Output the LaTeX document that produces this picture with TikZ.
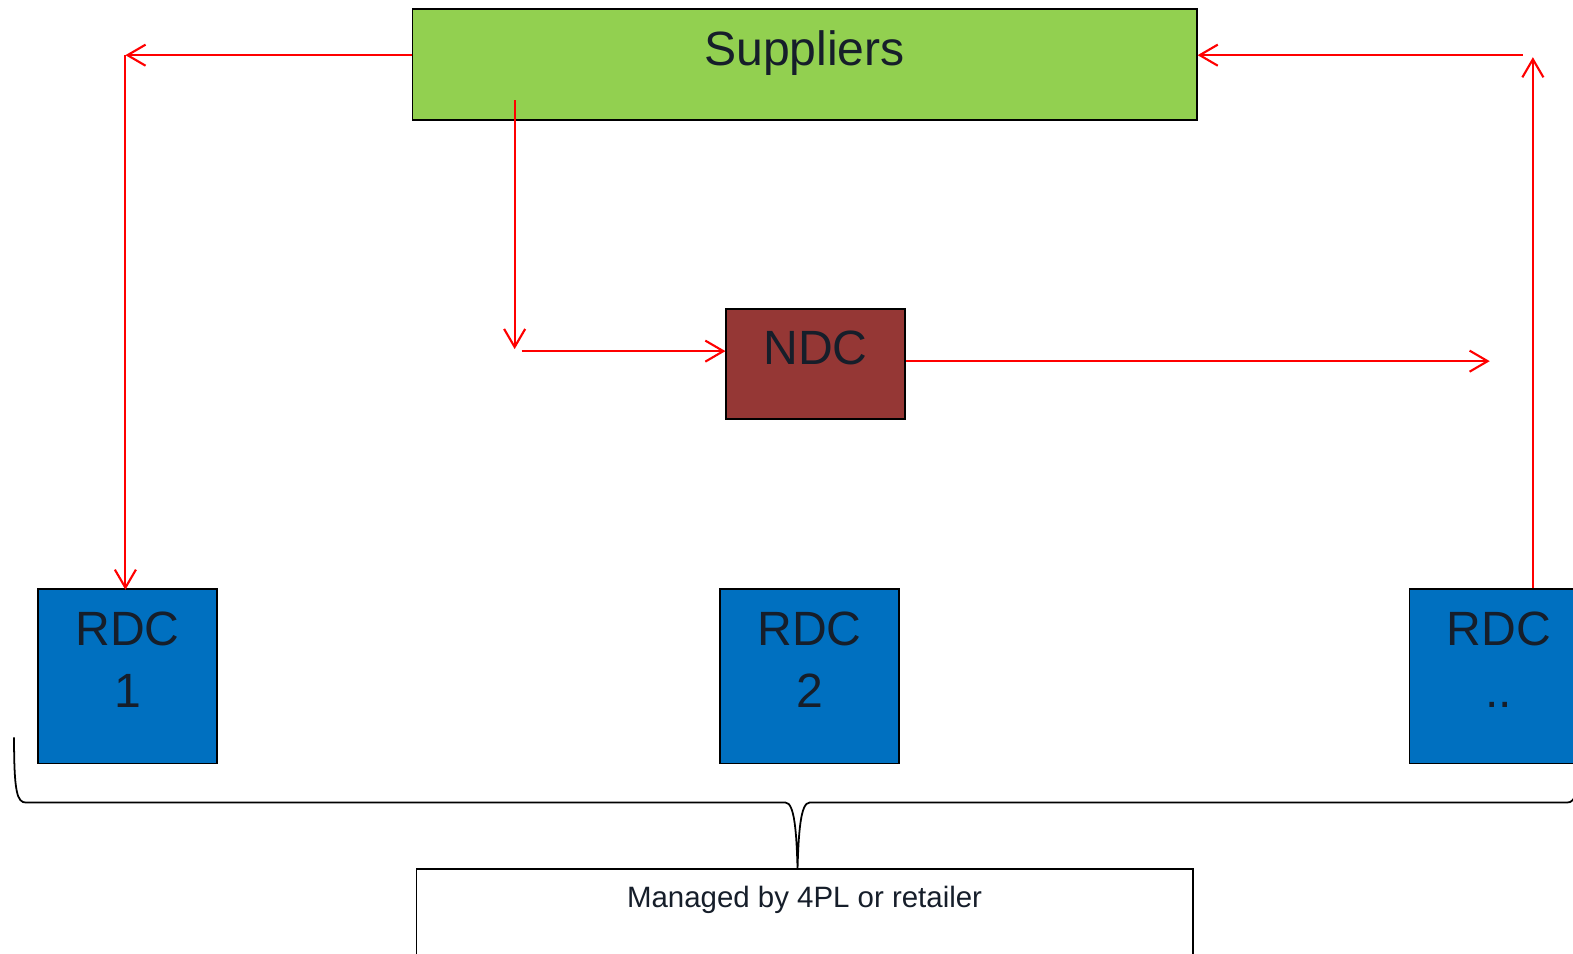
\documentclass[tikz,border=0pt]{standalone}
\usepackage{fontspec}
\setmainfont{Liberation Sans}
\usetikzlibrary{arrows.meta,calc}
\definecolor{supgreen}{RGB}{146,208,80}
\definecolor{ndcbrown}{RGB}{149,55,53}
\definecolor{rdcblue}{RGB}{0,112,192}
\definecolor{textdark}{RGB}{22,30,42}
\tikzset{>={Straight Barb[length=3.6mm,width=4.2mm]}}
\tikzstyle{box}=[rectangle,draw=black,line width=1pt]
\tikzstyle{boxtext}=[font=\fontsize{27.3}{35.7}\selectfont,text=textdark,inner sep=0pt,align=center]
\tikzstyle{smalltext}=[font=\fontsize{16.7}{20}\selectfont,text=textdark,inner sep=0pt]
\tikzstyle{flow}=[->,draw=red,line width=1.2pt]

\begin{document}
\begin{tikzpicture}[x=0.02cm,y=-0.02cm]
	\useasboundingbox (0,0) rectangle (1568,950);

	\node[box, fill=supgreen, minimum width=15.64cm, minimum height=2.22cm, label={[boxtext,anchor=north,yshift=-0.44cm]north:Suppliers}] (sup) at (802,64.5) {};
	\node[box, fill=ndcbrown, minimum width=3.56cm, minimum height=2.2cm, label={[boxtext,anchor=north,yshift=-0.44cm]north:NDC}] (ndc) at (813,363) {};
	\node[box, fill=rdcblue, minimum width=3.56cm, minimum height=3.48cm, label={[boxtext,anchor=north,yshift=-0.46cm]north:RDC\\1}] (rdc1) at (127,674) {};
	\node[box, fill=rdcblue, minimum width=3.56cm, minimum height=3.48cm, label={[boxtext,anchor=north,yshift=-0.46cm]north:RDC\\2}] (rdc2) at (807,674) {};
	\node[box, fill=rdcblue, minimum width=3.56cm, minimum height=3.48cm, label={[boxtext,anchor=north,yshift=-0.46cm]north:RDC\\..}] (rdc3) at (1494,674) {};
	\node[box, fill=white, minimum width=15.48cm, minimum height=2.2cm, label={[smalltext,anchor=north,yshift=-0.36cm]north:Managed by 4PL or retailer}] (mgmt) at (802,921) {};

	\coordinate (c1) at (125,55);
	\coordinate (c2) at (513,100);
	\coordinate (c3) at (513,348);
	\coordinate (c4) at (520,350);
	\coordinate (c5) at (1485,360);
	\coordinate (c6) at (1528,57);
	\coordinate (c7) at (1518,55);

	\draw[flow] (sup.west |- c1) -- (c1);
	\draw[flow, shorten >=-1pt] (c1) -- (c1 |- rdc1.north);
	\draw[flow] (c2) -- (c3);
	\draw[flow] (c4) -- (ndc.west |- c4);
	\draw[flow] (ndc.east |- c5) -- (c5);
	\draw[flow] (c6 |- rdc3.north) -- (c6);
	\draw[flow] (c7) -- (sup.east |- c7);

	\draw[line width=1pt] (14,735) .. controls (14,790) and (17,800) .. (26,800) -- (783,800) .. controls (792,800) and (794,830) .. (795,866) .. controls (796,830) and (798,800) .. (807,800) -- (1562,800) .. controls (1567,800) and (1569,797) .. (1572,789);
\end{tikzpicture}
\end{document}
